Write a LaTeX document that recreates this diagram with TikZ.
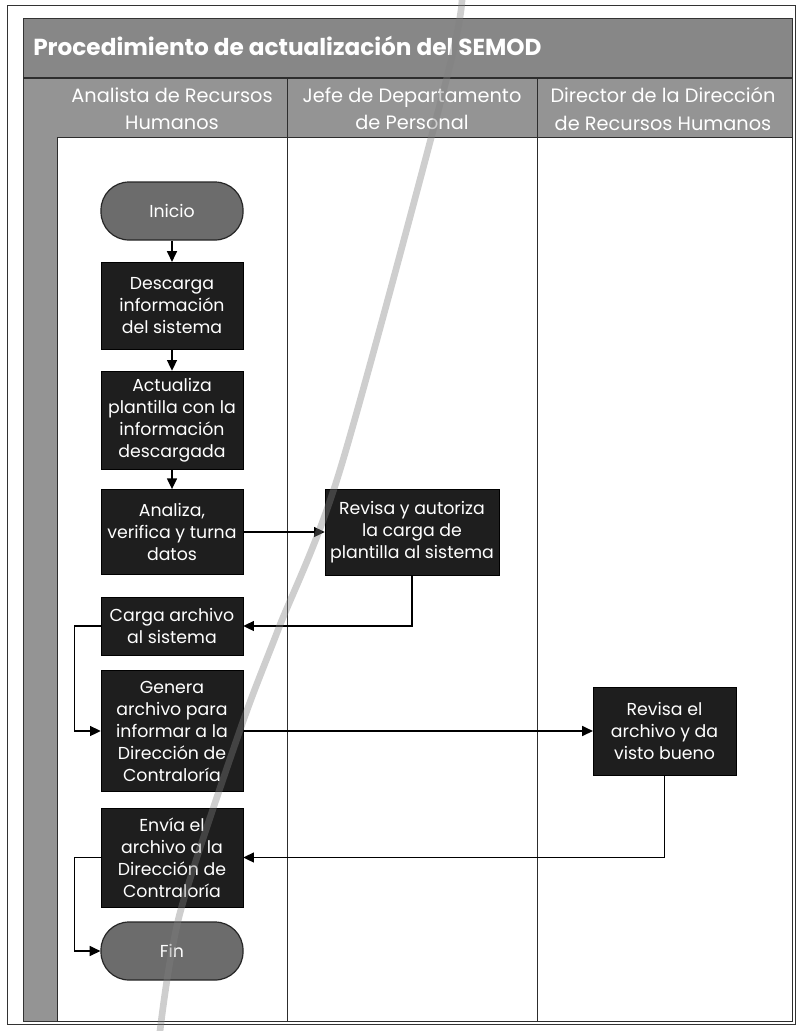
\documentclass[tikz,border=0pt]{standalone}
\usepackage{fontspec}
\setmainfont{Poppins}
\usetikzlibrary{arrows.meta,calc}
\definecolor{bandgray}{RGB}{135,135,135}
\definecolor{hdrgray}{RGB}{148,148,148}
\definecolor{boxdark}{RGB}{30,30,30}
\definecolor{termgray}{RGB}{108,108,108}
\definecolor{linegray}{RGB}{45,45,45}
\begin{document}
\begin{tikzpicture}[x=0.75pt,y=-0.75pt,
  proc/.style={draw=black,fill=boxdark,text=white,align=center,inner sep=0pt,
    font=\fontsize{13}{16.5}\selectfont,minimum width=106.5pt},
  term/.style={draw=black!85,line width=0.9pt,fill=termgray,text=white,inner sep=0pt,
    rounded corners=21pt,minimum width=106.5pt,minimum height=43.5pt,
    font=\fontsize{13}{16.5}\selectfont},
  flow/.style={draw=black,line width=0.9pt,-{Triangle[length=8pt,width=7.5pt]}},
  lane/.style={draw=linegray,line width=0.6pt},
  hdr/.style={text=white,align=center,font=\fontsize{14.5}{20.5}\selectfont}
]
\useasboundingbox (0,0) rectangle (798,1031);
% outer page frame
\draw[line width=0.7pt,draw=black!80] (7,5) rectangle (795,1024);
% gray frame and white area
\fill[bandgray] (23,18) rectangle (792,78);
\fill[hdrgray] (23,78) rectangle (792,137);
\fill[hdrgray] (23,137) rectangle (57,1021);
\draw[line width=0.7pt,draw=black!80] (23,18) rectangle (792,1021);
\draw[lane,fill=white] (57,137) rectangle (792,1021);
\draw[lane,line width=1pt] (23,78) -- (792,78);
% lane dividers
\draw[lane] (287,78) -- (287,1021);
\draw[lane] (537,78) -- (537,1021);
% title and headers
\node[anchor=base west,text=white,inner sep=0pt,font=\bfseries\fontsize{17.4}{19}\selectfont] (title) at (33,56) {Procedimiento de actualización del SEMOD};
\node[hdr] (h1) at (172,109) {Analista de Recursos\\Humanos};
\node[hdr] (h2) at (412,109) {Jefe de Departamento\\de Personal};
\node[hdr] (h3) at (663,109) {Director de la Dirección\\de Recursos Humanos};
% nodes
\node[term] (inicio) at (172,211) {Inicio};
\node[proc,minimum height=65pt] (descarga) at (172,305.5) {Descarga\\información\\del sistema};
\node[proc,minimum height=73.5pt] (actualiza) at (172,420) {Actualiza\\plantilla con la\\información\\descargada};
\node[proc,minimum height=64pt] (analiza) at (172,532) {Analiza,\\verifica y turna\\datos};
\node[proc,minimum height=64.5pt,minimum width=130.5pt] (rev1) at (412,532) {Revisa y autoriza\\la carga de\\plantilla al sistema};
\node[proc,minimum height=43.5pt] (carga) at (172,626) {Carga archivo\\al sistema};
\node[proc,minimum height=91pt] (genera) at (172,731) {Genera\\archivo para\\informar a la\\Dirección de\\Contraloría};
\node[proc,minimum height=66pt,minimum width=107pt] (rev2) at (664.5,731) {Revisa el\\archivo y da\\visto bueno};
\node[proc,minimum height=74pt] (envia) at (172,857.5) {Envía el\\archivo a la\\Dirección de\\Contraloría};
\node[term] (fin) at (172,951) {Fin};
% connectors
\draw[flow] (inicio) -- (descarga);
\draw[flow] (descarga) -- (actualiza);
\draw[flow] (actualiza) -- (analiza);
\draw[flow] (analiza) -- (rev1);
\draw[flow] (rev1.south) |- (carga.east);
\draw[flow] (carga.west) -- ++(-26,0) |- (genera.west);
\draw[flow] (genera) -- (rev2);
\draw[flow] (rev2.south) |- (envia.east);
\draw[flow] (envia.west) -- ++(-26,0) |- (fin.west);
% pencil stroke across the scan
\draw[gray,opacity=0.38,line width=5pt,line cap=round] plot[smooth] coordinates {(462,0) (445,85) (340,470) (278,630) (240,730) (180,913) (160,1031)};
\end{tikzpicture}
\end{document}
